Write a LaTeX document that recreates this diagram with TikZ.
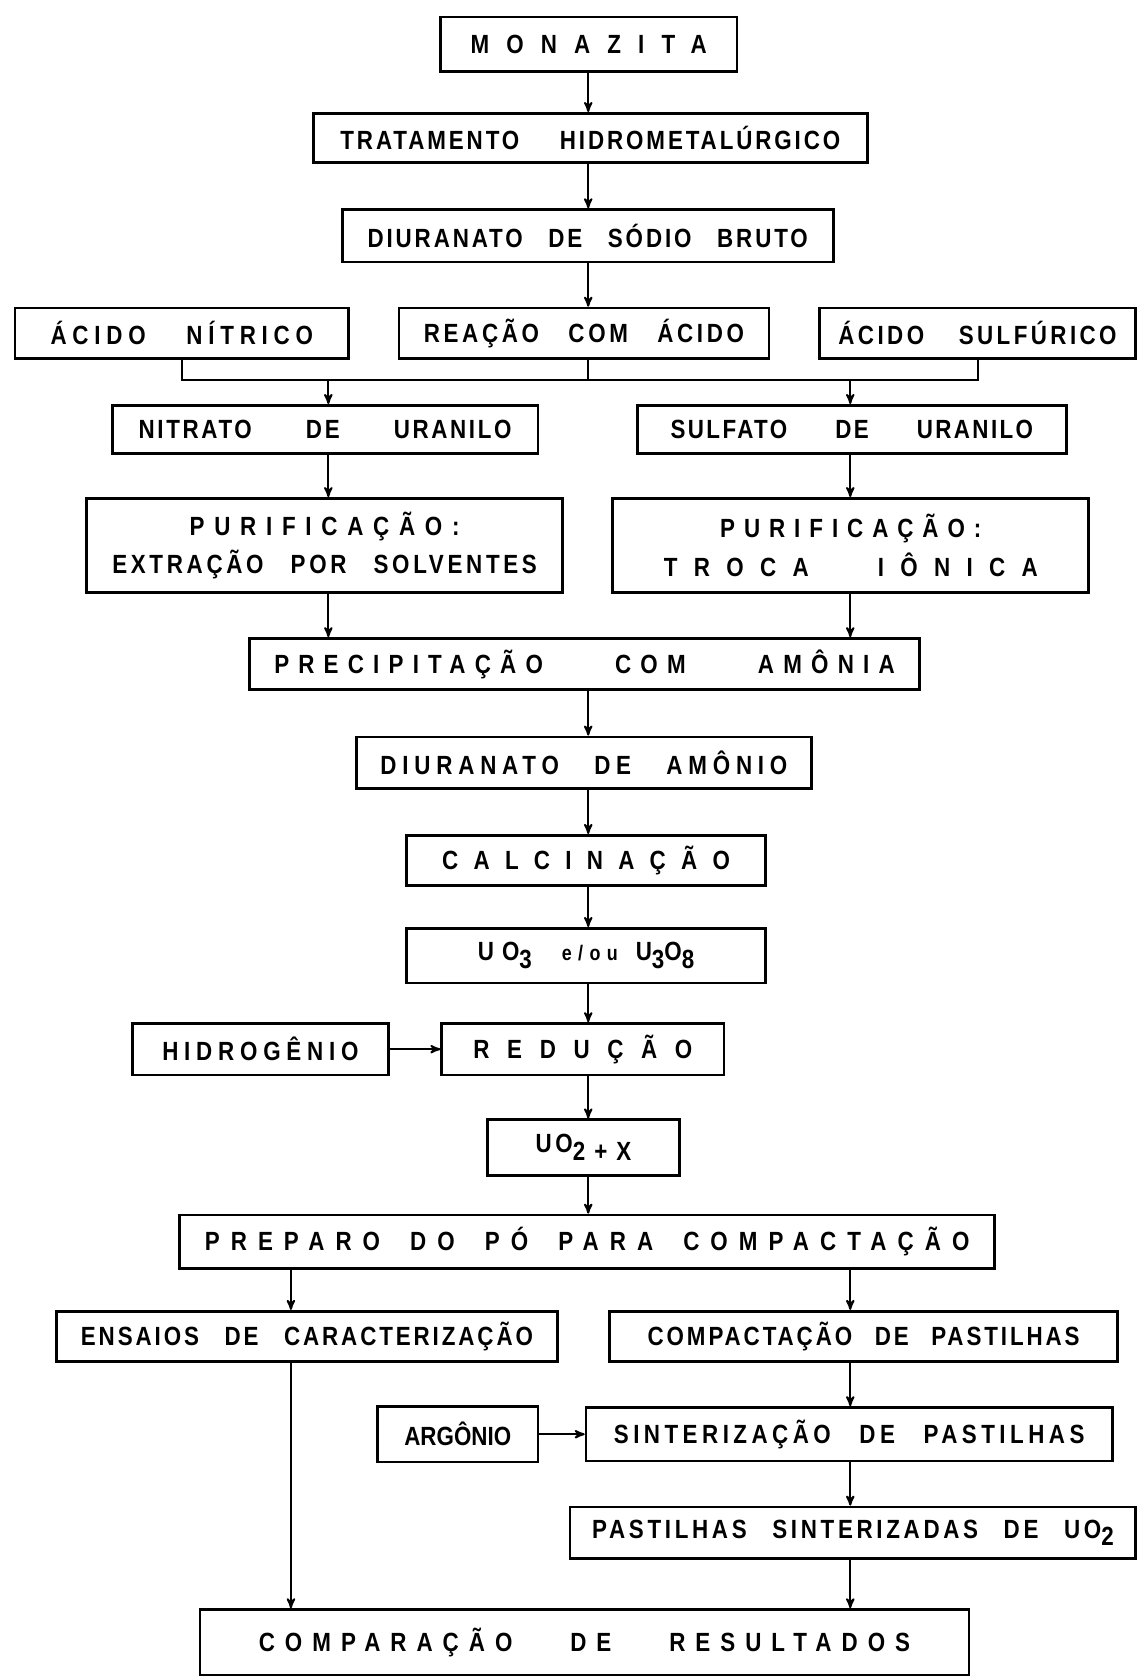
\documentclass[tikz,border=0pt]{standalone}
\usepackage{fontspec}
\setmainfont{Liberation Sans}
\newfontfamily\hand[FakeStretch=0.85]{Liberation Sans Bold}
\usetikzlibrary{calc}
\usetikzlibrary{arrows,positioning}
% letter spacing (percent) and word space (pt)
\newcommand{\lsp}[2]{\hand\fontsize{17.5}{21}\selectfont\addfontfeatures{LetterSpace=#1}\spaceskip=#2pt\relax}
\newcommand{\lowidx}[1]{\raisebox{-0.55ex}{#1}}
\tikzstyle{bx}=[draw, line width=1.8pt, inner sep=2pt, align=center, font=\lsp{11}{12}]
\tikzstyle{ln}=[line width=1.3pt]
\tikzstyle{ar}=[->, >=stealth', line width=1.3pt]
\tikzset{wh/.style 2 args={minimum width=#1*0.025cm, minimum height=#2*0.025cm}}

\begin{document}
\begin{tikzpicture}[x=0.025cm, y=-0.025cm]
\useasboundingbox (0,0) rectangle (1064,1568);
% columns for the connectors
\coordinate (ax) at (550,0);
\coordinate (cl) at (307,0);
\coordinate (cr) at (795,0);
\coordinate (ll) at (272,0);
\coordinate (rr) at (795,0);
\coordinate (jn) at (0,355);

\node[bx, wh={277}{51}, font=\lsp{65}{5}] (mon) at (550.5,41.5) {MONAZITA};
\node[bx, wh={518}{46}, font=\lsp{11}{27}] (trat) at (552,129) {TRATAMENTO HIDROMETALÚRGICO};
\node[bx, wh={459}{49}, font=\lsp{11}{17}] (dsod) at (549.5,220.5) {DIURANATO DE SÓDIO BRUTO};
\node[bx, wh={312}{47}, font=\lsp{22}{27}] (nit) at (170,311.5) {ÁCIDO NÍTRICO};
\node[bx, wh={346}{47}, font=\lsp{14}{19.5}] (reac) at (546,311.5) {REAÇÃO COM ÁCIDO};
\node[bx, wh={295}{47}, font=\lsp{13}{23}] (sulf) at (914,311.5) {ÁCIDO SULFÚRICO};
\node[bx, wh={398}{45}, font=\lsp{10}{36}] (nitr) at (304,401.5) {NITRATO DE URANILO};
\node[bx, wh={401}{45}, font=\lsp{9}{32}] (sulr) at (796.5,401.5) {SULFATO DE URANILO};
\node[bx, wh={445}{88}] (pur1) at (303.5,510)
  {{\lsp{37}{5}PURIFICAÇÃO:}\\[4.6pt]{\lsp{14}{18}EXTRAÇÃO POR SOLVENTES}};
\node[bx, wh={445}{88}] (pur2) at (795.5,510)
  {{\lsp{34}{5}PURIFICAÇÃO:}\\[4.6pt]{\lsp{62}{46}TROCA IÔNICA}};
\node[bx, wh={627}{48}, font=\lsp{35}{48}] (prec) at (546.5,621) {PRECIPITAÇÃO COM AMÔNIA};
\node[bx, wh={426}{48}, font=\lsp{22}{23.5}] (damo) at (546,713) {DIURANATO DE AMÔNIO};
\node[bx, wh={336}{47}, font=\lsp{58}{5}] (calc) at (548,804.5) {CALCINAÇÃO};
\node[bx, wh={336}{51}, font=\lsp{30}{5}] (uox) at (548,893.5)
  {UO\lowidx{3}\hspace{20pt}{\fontsize{14}{16}\selectfont e/ou}\hspace{12pt}U\lowidx{3}O\lowidx{8}};
\node[bx, wh={239}{48}, font=\lsp{22}{5}] (hid) at (243.5,981) {HIDROGÊNIO};
\node[bx, wh={264}{48}, font=\lsp{67}{5}] (red) at (545,981) {REDUÇÃO};
\node[bx, wh={179}{52}, font=\lsp{14}{6}] (uo2) at (545.5,1073) {UO\lowidx{2 + X}};
\node[bx, wh={762}{50}, font=\lsp{42}{20}] (prep) at (549,1161) {PREPARO DO PÓ PARA COMPACTAÇÃO};
\node[bx, wh={468}{47}, font=\lsp{11}{17}] (ens) at (287,1249.5) {ENSAIOS DE CARACTERIZAÇÃO};
\node[bx, wh={475}{47}, font=\lsp{11}{15}] (comp) at (807.5,1249.5) {COMPACTAÇÃO DE PASTILHAS};
\node[bx, wh={150}{52}, font=\lsp{0}{5}] (arg) at (428,1341) {ARGÔNIO};
\node[bx, wh={492}{50}, font=\lsp{17}{19}] (sint) at (794,1341) {SINTERIZAÇÃO DE PASTILHAS};
\node[bx, wh={529}{48}, font=\lsp{14}{17}] (past) at (797.5,1433) {PASTILHAS SINTERIZADAS DE UO\lowidx{2}};
\node[bx, wh={719}{61}, font=\lsp{38}{38.5}] (res) at (546.5,1535.5) {COMPARAÇÃO DE RESULTADOS};

\draw[ar] (ax |- mon.south) -- (ax |- trat.north);
\draw[ar] (ax |- trat.south) -- (ax |- dsod.north);
\draw[ar] (ax |- dsod.south) -- (ax |- reac.north);
\draw[ln] (nit.south) -- (nit.south |- jn) -- (sulf.south |- jn) -- (sulf.south);
\draw[ln] (ax |- reac.south) -- (ax |- jn);
\draw[ar] (cl |- jn) -- (cl |- nitr.north);
\draw[ar] (cr |- jn) -- (cr |- sulr.north);
\draw[ar] (cl |- nitr.south) -- (cl |- pur1.north);
\draw[ar] (cr |- sulr.south) -- (cr |- pur2.north);
\draw[ar] (cl |- pur1.south) -- (cl |- prec.north);
\draw[ar] (cr |- pur2.south) -- (cr |- prec.north);
\draw[ar] (ax |- prec.south) -- (ax |- damo.north);
\draw[ar] (ax |- damo.south) -- (ax |- calc.north);
\draw[ar] (ax |- calc.south) -- (ax |- uox.north);
\draw[ar] (ax |- uox.south) -- (ax |- red.north);
\draw[ar] (hid) -- (red);
\draw[ar] (ax |- red.south) -- (ax |- uo2.north);
\draw[ar] (ax |- uo2.south) -- (ax |- prep.north);
\draw[ar] (ll |- prep.south) -- (ll |- ens.north);
\draw[ar] (rr |- prep.south) -- (rr |- comp.north);
\draw[ar] (rr |- comp.south) -- (rr |- sint.north);
\draw[ar] (arg) -- (sint);
\draw[ar] (rr |- sint.south) -- (rr |- past.north);
\draw[ar] (ll |- ens.south) -- (ll |- res.north);
\draw[ar] (rr |- past.south) -- (rr |- res.north);

\end{tikzpicture}
\end{document}
